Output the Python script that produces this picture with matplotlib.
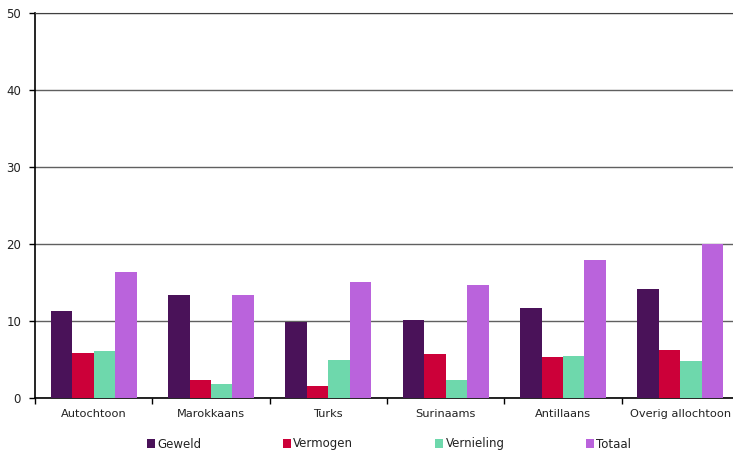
import matplotlib
matplotlib.use('Agg')
from matplotlib import pyplot as plt
import numpy as np

categories = ['Autochtoon', 'Marokkaans', 'Turks', 'Surinaams', 'Antillaans', 'Overig allochtoon']
series = ['Geweld', 'Vermogen', 'Vernieling', 'Totaal']
geweld = [11.3, 13.4, 9.9, 10.1, 11.7, 14.1]
vermogen = [5.8, 2.4, 1.6, 5.7, 5.3, 6.2]
vernieling = [6.1, 1.8, 5.0, 2.3, 5.4, 4.8]
totaal = [16.3, 13.4, 15.1, 14.7, 17.9, 20.0]
colors = ['#4a1259', '#cc0039', '#6ed8ac', '#ba63dc']

plt.rcParams['font.family'] = ['DejaVu Sans']
txt = '#222222'

fig = plt.figure(figsize=(7.33, 4.54), dpi=100)
W, H = 733, 454
ax = fig.add_axes([35 / W, 1 - 398 / H, 704 / W, 385 / H])

x = np.arange(len(categories))
bw = 0.183
for i, (vals, name) in enumerate(zip([geweld, vermogen, vernieling, totaal], series)):
    ax.bar(x + (i - 1.5) * bw, vals, bw, color=colors[i], label=name, zorder=3)

ax.set_xlim(-0.5, len(categories) - 0.5)
ax.set_ylim(0, 50)
ax.set_yticks([0, 10, 20, 30, 40, 50])
ax.set_xticks(x)
ax.set_xticklabels(categories, fontsize=8.2, color=txt)
ax.set_xticks(np.arange(len(categories) + 1) - 0.5, minor=True)
ax.tick_params(axis='x', which='major', length=0, pad=8)
ax.tick_params(axis='x', which='minor', length=4, width=1, direction='out')
ax.tick_params(axis='y', length=4, width=1, labelsize=8.5, labelcolor=txt, pad=6)
ax.yaxis.grid(True, color='#606060', linewidth=1, zorder=0)

ax.spines['right'].set_visible(False)
ax.spines['top'].set_color('#404040')
ax.spines['left'].set_linewidth(1.2)
ax.spines['bottom'].set_linewidth(1.2)

leg = fig.legend(loc='center', bbox_to_anchor=(389 / W, 1 - 444 / H), ncol=4, frameon=False,
                 fontsize=8.5, handlelength=0.7, handleheight=0.7, handletextpad=0.2,
                 columnspacing=6.9)
for t in leg.get_texts():
    t.set_color(txt)

fig.savefig('out.png', dpi=100)
